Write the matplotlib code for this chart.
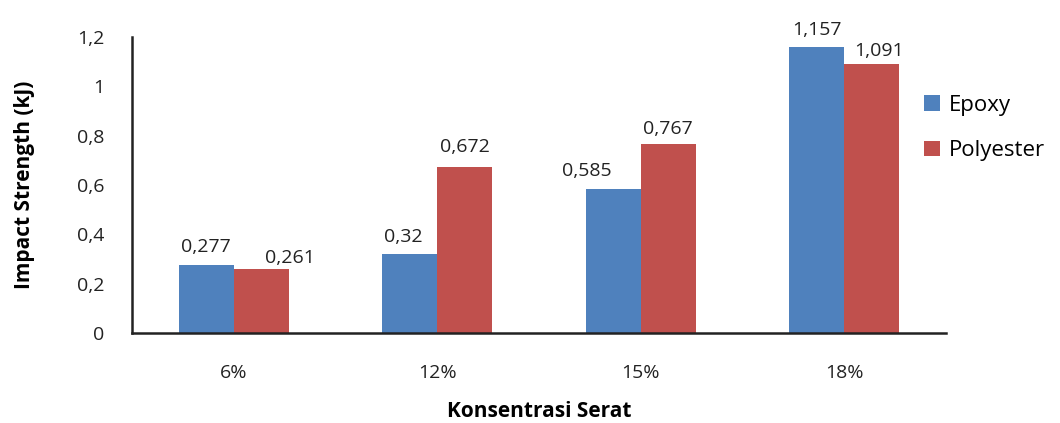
import matplotlib.pyplot as plt
import numpy as np

categories = ['6%', '12%', '15%', '18%']
epoxy = [0.277, 0.32, 0.585, 1.157]
polyester = [0.261, 0.672, 0.767, 1.091]
yticks = [0, 0.2, 0.4, 0.6, 0.8, 1.0, 1.2]
ytick_labels = ['0', '0,2', '0,4', '0,6', '0,8', '1', '1,2']

# label nudges (points) as placed in the original chart
epoxy_dx = [0, -5, -19, 0]
polyester_dx = [21, 0, 0, 5]
epoxy_dy = [6, 6, 6, 6]
polyester_dy = [1, 8, 4, 3]

plt.rcParams['font.family'] = ['Open Sans', 'DejaVu Sans']

fig = plt.figure(figsize=(10.6, 4.23), dpi=100)
ax = fig.add_axes([0.1245, 0.2128, 0.768, 0.70])

x = np.arange(len(categories))
w = 0.27
b1 = ax.bar(x - w / 2, epoxy, w, color='#4F81BD', label='Epoxy')
b2 = ax.bar(x + w / 2, polyester, w, color='#C0504D', label='Polyester')

fmt = lambda v: ('%g' % v).replace('.', ',')
for bars, vals, dxs, dys in ((b1, epoxy, epoxy_dx, epoxy_dy),
                             (b2, polyester, polyester_dx, polyester_dy)):
    for r, v, dx, dy in zip(bars, vals, dxs, dys):
        ax.annotate(fmt(v), (r.get_x() + r.get_width() / 2, v), xytext=(dx, dy),
                    textcoords='offset points', ha='center', va='bottom',
                    fontsize=14, color='#222222', annotation_clip=False)

ax.set_xlim(-0.5, len(categories) - 0.5)
ax.set_ylim(0, 1.2)
ax.set_xticks(x)
ax.set_xticklabels(categories)
ax.set_yticks(yticks)
ax.set_yticklabels(ytick_labels)
ax.tick_params(length=0, labelsize=14, colors='#222222')
ax.tick_params(axis='x', pad=22)
ax.tick_params(axis='y', pad=20)
for s in ['top', 'right']:
    ax.spines[s].set_visible(False)
for s in ['left', 'bottom']:
    ax.spines[s].set_linewidth(1.8)
    ax.spines[s].set_color('#222222')

ax.set_ylabel('Impact Strength (kJ)', fontsize=15, fontweight='bold', labelpad=30)
ax.set_xlabel('Konsentrasi Serat', fontsize=15, fontweight='bold', labelpad=14)

fig.legend(handles=[b1, b2], loc='center left', bbox_to_anchor=(0.872, 0.697),
           frameon=False, fontsize=16, handlelength=0.7, handleheight=0.7,
           labelspacing=1.1, handletextpad=0.4, borderpad=0, borderaxespad=0)

fig.savefig('out.png', dpi=100)
